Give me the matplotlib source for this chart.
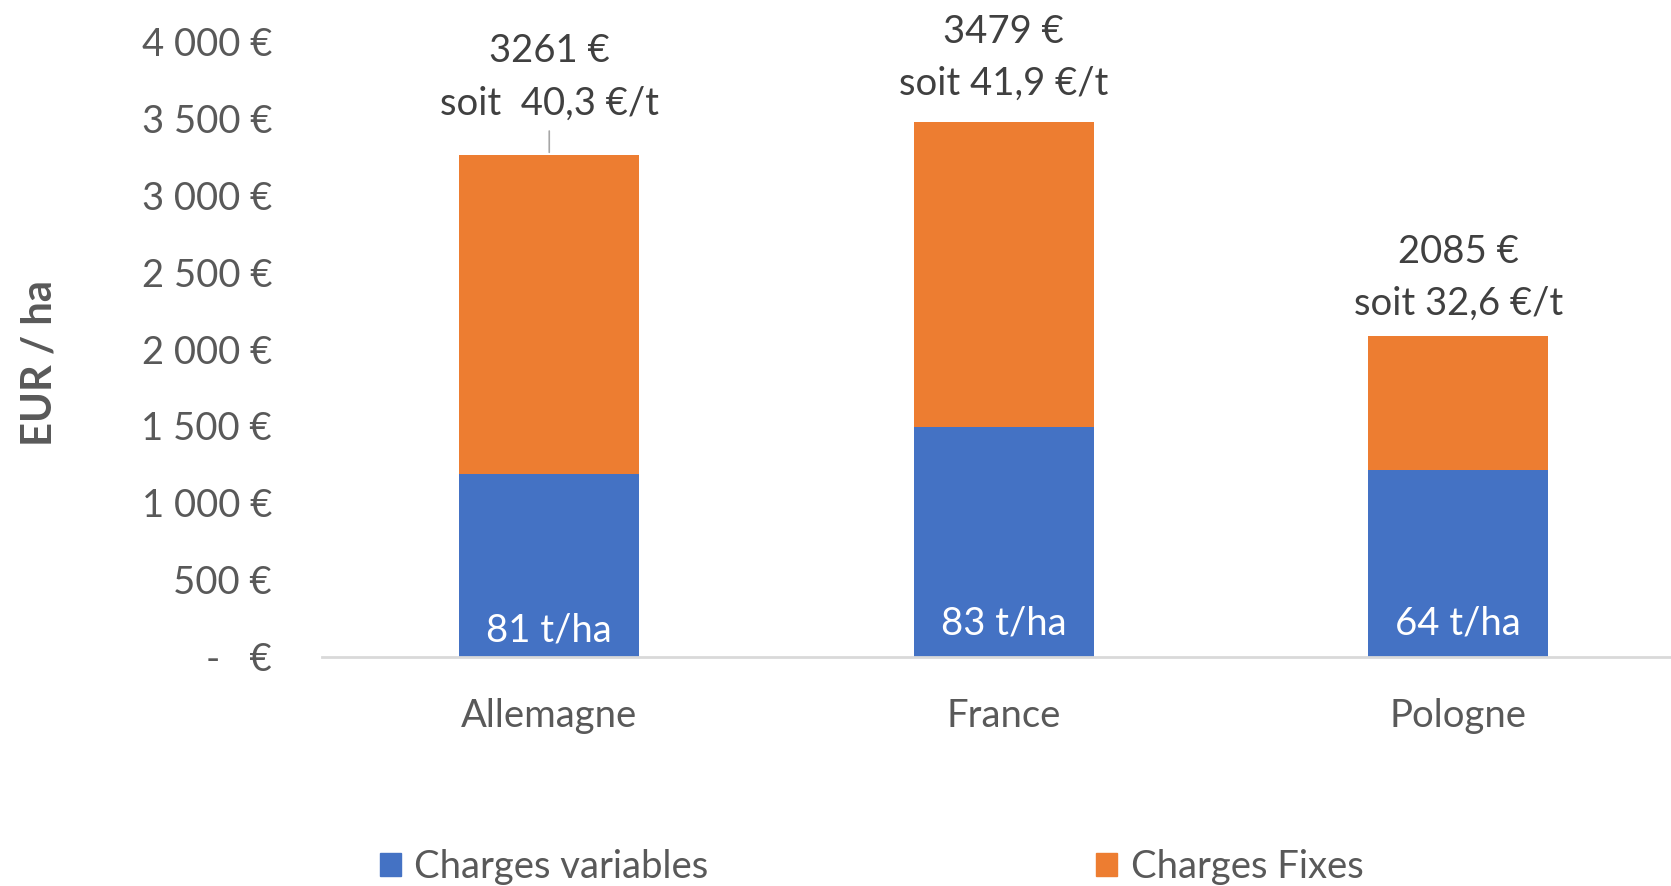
import matplotlib.pyplot as plt
from matplotlib.patches import Patch

plt.rcParams['font.family'] = ['Lato', 'DejaVu Sans']

# données par pays
pays = ['Allemagne', 'France', 'Pologne']
charges_variables = [1186, 1491, 1213]
totaux = [3261, 3479, 2085]
charges_fixes = [t - v for t, v in zip(totaux, charges_variables)]
cout_tonne = ['40,3', '41,9', '32,6']
rendements = [81, 83, 64]
yticks = [0, 500, 1000, 1500, 2000, 2500, 3000, 3500, 4000]

BLEU = '#4472C4'
ORANGE = '#ED7D31'
GRIS = '#595959'
TAILLE = 27.5

fig = plt.figure(figsize=(16.71, 8.86), dpi=100)
ax = fig.add_axes([322 / 1671, 1 - 656.5 / 886, (1671 - 322) / 1671, 615 / 886])

x = list(range(len(pays)))
largeur = 0.396
ax.bar(x, charges_variables, largeur, color=BLEU, label='Charges variables')
ax.bar(x, charges_fixes, largeur, bottom=charges_variables, color=ORANGE, label='Charges Fixes')

ax.set_xlim(-0.5, -0.5 + (1671 - 322) / 454.5)
ax.set_ylim(0, 4000)

# étiquettes au-dessus des barres
decalages = [56, 46, 42]
for i in x:
    txt = f'{totaux[i]} €\nsoit {" " if i == 0 else ""}{cout_tonne[i]} €/t'
    fleche = None
    if i == 0:
        fleche = dict(arrowstyle='-', color='#A6A6A6', lw=1.2, shrinkA=5, shrinkB=2)
    ax.annotate(txt, xy=(i, totaux[i]), xytext=(0, decalages[i]),
                textcoords='offset points', ha='center', va='center',
                fontsize=TAILLE, color='#404040', linespacing=1.55,
                annotation_clip=False, arrowprops=fleche)
    ax.annotate(f'{rendements[i]} t/ha', xy=(i, 0),
                xytext=(0, 19 if i == 0 else 24), textcoords='offset points',
                ha='center', va='center', fontsize=TAILLE, color='white')

# axes
for s in ['top', 'right', 'left']:
    ax.spines[s].set_visible(False)
ax.spines['bottom'].set_color('#D9D9D9')
ax.spines['bottom'].set_linewidth(2)
ax.set_yticks(yticks)
ax.set_yticklabels(['-   €' if v == 0 else f'{v:,} €'.replace(',', ' ') for v in yticks])
ax.set_xticks(x)
ax.set_xticklabels(pays)
ax.tick_params(axis='y', length=0, pad=36, labelsize=TAILLE, labelcolor=GRIS)
ax.tick_params(axis='x', length=0, pad=30, labelsize=TAILLE, labelcolor=GRIS)

fig.text(39 / 1671, 1 - 363 / 886, 'EUR / ha', rotation=90, ha='center', va='center',
         fontsize=30, fontweight='bold', color=GRIS)

poignees = [Patch(color=BLEU), Patch(color=ORANGE)]
fig.legend(poignees, ['Charges variables', 'Charges Fixes'], loc='center left',
           bbox_to_anchor=(361 / 1671, 1 - 867 / 886), ncol=2, frameon=False,
           fontsize=TAILLE, labelcolor=GRIS, handlelength=0.55, handleheight=0.55,
           handletextpad=0.35, columnspacing=10.15, borderpad=0)

fig.savefig('out.png', dpi=100)
